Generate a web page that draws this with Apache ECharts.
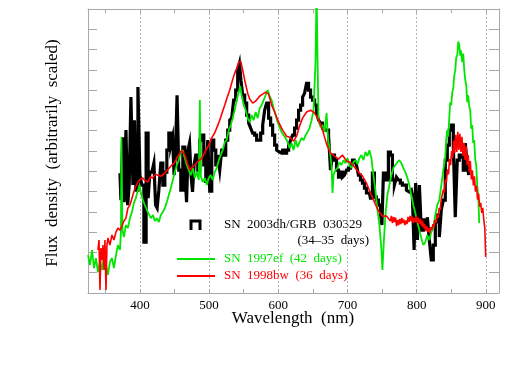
<!DOCTYPE html>
<html><head><meta charset="utf-8">
<script src="https://cdn.jsdelivr.net/npm/echarts@6/dist/echarts.min.js"></script>
<style>html,body{margin:0;padding:0;background:#fff}#c{width:510px;height:368px}</style>
</head><body><div id="c"></div>
<script>
// SN 2003dh/GRB 030329 (34-35 days), binned spectrum
const blackWave = [371.2,374.0,376.2,378.4,381.3,383.4,385.6,388.5,391.3,392.8,
395.7,398.6,401.4,404.3,407.2,410.8,413.0,415.9,418.8,421.6,
423.8,426.0,428.8,431.7,434.6,437.5,440.4,443.3,446.2,448.3,
450.5,452.6,454.8,457.7,460.6,463.5,466.4,468.5,470.7,472.8,
475.0,477.2,479.3,482.2,485.1,488.0,490.9,493.8,496.7,499.5,
502.4,505.3,508.2,511.1,514.0,516.8,519.7,522.6,525.5,528.4,
531.3,534.1,537.0,539.9,542.8,545.0,547.1,550.0,552.9,555.8,
558.7,561.5,564.4,567.3,570.2,573.1,576.0,578.9,581.7,584.6,
587.5,590.4,593.3,596.2,599.1,601.9,604.8,607.7,610.6,613.5,
616.4,619.2,622.1,625.0,627.9,630.8,633.7,636.6,639.4,642.3,
645.2,648.1,651.0,653.9,656.8,659.6,662.5,665.4,668.3,671.2,
674.1,676.9,679.8,682.7,685.6,688.5,691.4,694.3,697.1,700.0,
702.9,705.8,708.7,711.6,714.4,717.3,720.2,723.1,726.0,728.9,
731.7,734.6,737.5,740.4,743.3,746.2,749.1,750.5,753.4,757.7,
760.6,763.5,766.4,769.3,772.1,775.0,777.9,780.8,783.7,786.6,
789.4,792.3,795.2,797.4,799.6,802.5,805.3,808.2,811.1,814.0,
816.9,819.7,822.6,825.5,828.4,831.3,834.2,837.0,839.9,842.8,
845.7,848.6,851.5,854.4,857.2,860.1,863.0,865.9,868.8,871.7,
874.5,876.0];
const blackFlux = [5.91,4.58,7.68,4.48,8.03,4.33,5.32,9.66,5.32,8.52,
5.07,10.15,5.81,5.32,2.51,7.88,4.68,5.96,5.96,6.40,
4.33,4.19,5.07,6.40,5.32,5.96,7.04,7.88,7.29,7.68,
5.81,7.04,9.75,6.06,5.07,7.19,6.06,4.48,7.04,7.39,
5.81,4.98,6.31,6.80,6.06,7.54,7.78,6.31,5.42,7.54,
5.02,7.54,7.04,6.31,6.80,6.06,7.04,6.80,7.54,8.03,
8.52,8.62,9.51,10.0,10.99,11.33,10.49,9.75,9.36,8.77,
8.37,8.13,7.88,7.78,7.54,7.54,7.88,8.28,9.01,9.36,
8.62,8.28,7.78,7.29,7.04,6.95,6.90,7.04,6.90,7.04,
7.29,7.54,7.78,8.13,8.52,9.01,9.26,9.66,9.85,10.34,
10.0,9.66,9.51,9.26,8.87,8.52,8.37,8.13,8.03,8.03,
7.78,6.06,6.80,6.55,6.06,5.71,5.96,5.71,5.81,6.06,
6.16,6.31,6.55,6.55,6.31,5.81,5.57,5.42,5.17,4.93,
4.93,4.68,5.91,4.73,4.58,4.33,3.94,3.35,5.91,5.57,
6.95,6.80,5.57,5.32,5.71,5.57,5.42,5.32,5.32,5.07,
4.98,5.07,4.83,2.12,5.42,2.61,5.32,3.10,3.60,3.20,
3.74,2.61,1.63,2.36,3.50,3.84,2.76,4.09,4.58,6.55,
7.29,8.03,8.28,7.29,3.74,6.55,6.80,6.70,6.06,7.39,
6.31,5.81];

// SN 1997ef (42 days)
const greenWave = [325.0,327.9,330.8,333.7,336.5,339.4,342.3,345.2,348.1,351.0,
353.8,356.7,359.6,362.5,365.4,368.2,371.2,372.6,373.3,374.8,
376.9,379.8,382.7,385.6,388.5,391.3,394.2,397.1,399.3,401.4,
404.3,407.2,410.1,413.0,415.9,418.8,421.6,424.5,427.4,430.3,
433.2,436.1,438.9,441.8,444.7,447.6,450.5,453.4,456.3,459.1,
462.0,464.9,467.8,470.7,473.6,476.5,479.3,482.2,485.1,486.6,
488.0,490.9,493.8,496.7,499.5,502.4,505.3,508.2,511.1,514.0,
516.8,519.7,522.6,525.5,528.4,531.3,534.1,537.0,539.9,542.8,
545.0,547.1,550.0,552.9,555.8,558.7,561.5,564.4,567.3,570.2,
573.1,576.0,578.9,581.7,584.6,587.5,590.4,593.3,596.2,599.1,
601.9,604.8,607.7,610.6,613.5,616.4,619.2,622.1,625.0,627.9,
630.8,633.7,636.6,639.4,642.3,645.2,648.1,651.0,653.9,655.3,
656.8,658.2,661.1,664.0,666.9,669.8,672.0,674.1,676.9,678.4,
679.8,682.7,685.6,688.5,691.4,694.3,697.1,700.0,702.9,705.8,
708.7,711.6,714.4,717.3,720.2,723.1,726.0,728.9,731.7,734.6,
737.5,740.4,743.3,746.2,749.1,750.5,752.7,754.8,757.7,760.6,
763.5,766.4,769.3,772.1,775.0,777.9,780.8,783.7,786.6,789.4,
792.3,795.2,798.1,801.0,803.8,806.7,809.6,812.5,815.4,818.3,
821.1,824.0,826.9,829.8,832.7,835.6,838.5,841.3,842.8,844.2,
845.6,847.1,848.5,850.0,851.5,852.9,854.3,855.8,857.2,858.7,
860.1,861.6,863.0,863.7,865.9,867.3,868.8,870.2,871.7,873.1,
874.5,876.0,877.4,878.8,880.3,881.7,883.2,884.6,886.1,887.5,
889.0,890.4];
const greenFlux = [1.87,1.38,2.12,1.23,1.72,1.03,1.53,1.13,1.87,1.38,
0.89,1.53,1.72,1.23,1.87,2.36,2.12,3.00,7.68,3.10,
2.76,3.35,3.20,3.69,3.99,4.43,4.68,5.07,5.32,4.98,
4.58,4.33,4.09,3.89,3.69,3.84,3.55,3.69,3.50,3.84,
3.99,4.19,4.48,4.83,5.17,5.57,5.96,6.31,6.55,6.95,
7.04,6.65,6.31,6.06,5.81,6.16,5.67,5.96,5.57,9.51,
5.76,5.47,5.67,5.32,5.67,5.81,5.57,5.96,6.16,6.55,
6.80,7.04,7.44,7.54,8.03,8.28,8.62,9.01,9.51,9.90,
10.20,9.75,9.26,9.01,8.62,8.42,8.77,8.52,8.92,8.62,
9.11,9.26,9.51,9.75,10.0,9.70,9.51,9.11,8.77,8.42,
8.18,7.93,7.78,7.64,7.44,7.14,7.39,7.04,7.54,7.19,
7.44,7.64,7.54,7.78,7.93,8.13,8.52,9.01,11.48,15.0,
11.48,8.52,8.18,8.28,7.93,8.87,7.54,7.14,6.31,4.93,
5.81,6.06,6.16,6.45,6.31,6.55,6.40,6.65,6.31,6.16,
6.45,6.55,6.35,6.65,6.80,6.55,6.95,6.75,7.04,6.65,
5.81,5.07,4.09,3.35,2.12,1.13,2.61,3.84,4.83,5.32,
5.81,6.16,6.31,6.45,6.55,6.40,6.16,5.96,5.67,5.32,
4.83,4.33,3.94,3.50,3.10,2.71,2.36,2.51,2.86,2.61,
3.00,3.20,3.84,4.33,4.58,5.32,6.06,6.70,7.60,8.03,
7.70,8.62,9.40,9.26,9.90,10.10,10.70,10.99,11.60,11.72,
12.40,12.22,11.70,11.97,11.38,11.80,10.99,10.50,10.25,9.40,
9.75,9.20,9.01,8.10,8.28,7.40,7.54,6.60,6.31,5.30,
4.83,3.45];

// SN 1998bw (36 days)
const redWave = [339.4,340.9,342.3,343.7,345.2,346.6,348.1,349.5,351.0,352.4,
353.8,356.7,359.6,362.5,365.4,368.3,371.2,374.0,376.9,379.8,
382.7,385.6,389.9,393.0,397.1,400.7,404.3,407.9,411.5,415.1,
418.8,422.4,426.0,431.0,436.1,441.2,446.2,449.8,453.4,457.0,
460.6,464.9,468.5,472.1,475.7,479.3,484.4,489.4,494.0,498.0,
501.0,504.6,508.2,511.8,515.4,519.0,522.6,526.2,529.8,532.7,
535.6,537.7,539.9,542.8,545.7,548.6,551.5,555.8,558.7,563.0,
567.3,573.1,577.4,581.7,586.1,590.4,594.7,600.5,606.3,612.0,
616.4,622.1,626.5,630.8,635.1,640.9,646.7,651.0,655.3,659.6,
664.0,669.8,675.5,681.3,687.0,692.8,698.6,704.3,710.1,715.9,
721.7,727.4,733.2,739.0,744.7,750.5,756.3,762.0,763.5,765.0,
766.5,768.0,769.5,771.0,772.5,774.0,775.5,777.0,778.5,780.0,
781.5,783.0,784.5,786.0,787.5,789.0,790.5,792.0,793.5,795.0,
796.5,798.0,799.5,801.0,802.5,804.0,805.5,807.0,808.5,810.0,
811.5,813.0,814.5,816.0,817.5,819.0,820.5,822.0,823.5,825.0,
826.5,828.0,829.5,831.0,832.5,834.0,835.5,837.0,838.5,840.0,
841.5,843.0,844.5,846.0,847.5,849.0,850.5,852.0,853.5,855.0,
856.5,858.0,859.5,861.0,862.5,864.0,865.5,867.0,868.5,870.0,
871.5,873.0,874.5,876.0,877.5,879.0,880.5,882.0,883.5,885.0,
886.5,888.0,889.5,891.0,892.5,894.0,895.5,897.0,898.5,899.8];
const redFlux = [2.12,2.61,0.15,2.22,1.63,2.36,1.13,2.61,0.15,2.36,
2.71,2.36,2.86,2.61,3.00,3.20,3.10,3.30,3.55,3.69,
4.19,4.33,4.83,5.17,5.47,5.62,5.67,5.52,5.47,5.72,
5.67,5.86,5.81,5.76,5.91,6.11,6.31,6.40,6.65,6.85,
7.04,6.80,6.40,6.06,6.21,6.31,6.50,6.65,6.95,7.19,
7.39,7.70,7.90,8.20,8.52,8.90,9.26,9.65,10.0,10.35,
10.69,10.90,11.08,11.38,11.43,10.99,10.49,9.85,9.56,9.36,
9.46,9.70,9.80,9.90,9.80,9.26,8.92,8.42,8.03,7.73,
7.68,7.49,7.73,8.23,8.62,8.92,9.01,8.92,8.72,8.42,
8.03,7.34,6.90,6.75,6.60,6.80,6.50,6.45,6.21,5.96,
5.76,5.42,4.93,4.48,4.04,3.79,3.79,3.55,3.80,3.45,
3.75,3.50,3.72,3.30,3.60,3.35,3.65,3.40,3.70,3.45,
3.62,3.35,3.58,3.40,3.75,3.50,3.80,3.55,3.78,3.45,
3.70,3.50,3.80,3.45,3.72,3.40,3.65,3.30,3.55,3.20,
3.40,3.05,3.30,3.00,3.20,2.95,3.25,3.10,3.40,3.25,
3.60,3.45,3.85,3.70,4.20,4.10,4.60,4.55,5.10,4.95,
5.60,5.45,6.10,5.85,6.60,6.30,7.00,6.65,7.50,6.90,
7.80,6.95,7.95,7.05,7.85,6.95,7.70,6.75,7.40,6.55,
7.25,6.30,6.80,5.95,6.50,5.60,6.05,5.30,5.75,5.00,
5.30,4.60,4.90,4.25,4.45,3.95,4.20,3.60,3.20,1.77];

const xTickValues = [400,500,600,700,800,900];
const xMinorTickValues = [350,400,450,500,550,600,650,700,750,800,850,900];

function pairs(xs, ys){ return xs.map((x,i)=>[x, ys[i]]); }

const FRAME = '#a8a8a8';
const SERIF = '"Liberation Serif","DejaVu Serif",serif';
const GREEN = '#00e600';
const RED = '#ff0000';

const chart = echarts.init(document.getElementById('c'), null, {renderer:'canvas'});
chart.setOption({
  animation:false,
  backgroundColor:'#fff',
  grid:{left:88, top:9, width:411, height:284},
  xAxis:[
    {type:'value', min:325, max:919, position:'bottom',
     axisLine:{show:true, onZero:false, lineStyle:{color:FRAME}},
     axisTick:{show:true, inside:true, length:4, customValues:xMinorTickValues, lineStyle:{color:FRAME}},
     axisLabel:{show:true, customValues:xTickValues, color:'#000', fontFamily:SERIF, fontSize:13, margin:6},
     splitLine:{show:false}},
    {type:'value', min:325, max:919, position:'top',
     axisLine:{show:true, onZero:false, lineStyle:{color:FRAME}},
     axisTick:{show:true, inside:true, length:4, customValues:xMinorTickValues, lineStyle:{color:FRAME}},
     axisLabel:{show:false}, splitLine:{show:false}},
    {type:'value', min:325, max:919, splitNumber:6, position:'bottom',
     axisLine:{show:false}, axisTick:{show:false}, axisLabel:{show:false},
     splitLine:{show:true, lineStyle:{color:'#b4b4b4', type:[2,2], width:1}}}
  ],
  yAxis:[
    {type:'value', min:0, max:14, interval:1, position:'left',
     axisLine:{show:true, onZero:false, lineStyle:{color:FRAME}},
     axisTick:{show:true, inside:true, length:9, lineStyle:{color:FRAME}},
     axisLabel:{show:false}, splitLine:{show:false}},
    {type:'value', min:0, max:14, interval:1, position:'right',
     axisLine:{show:true, onZero:false, lineStyle:{color:FRAME}},
     axisTick:{show:true, inside:true, length:10, lineStyle:{color:FRAME}},
     axisLabel:{show:false}, splitLine:{show:false}}
  ],
  series:[
    {type:'line', name:'SN 2003dh/GRB 030329', data:pairs(blackWave, blackFlux), step:'middle',
     showSymbol:false, symbol:'none', z:3, clip:true,
     lineStyle:{color:'#000', width:3.2, join:'miter'}},
    {type:'line', name:'SN 1997ef', data:pairs(greenWave, greenFlux),
     showSymbol:false, symbol:'none', z:4, clip:true,
     lineStyle:{color:GREEN, width:1.8}},
    {type:'line', name:'SN 1998bw', data:pairs(redWave, redFlux),
     showSymbol:false, symbol:'none', z:5, clip:true,
     lineStyle:{color:RED, width:1.6}}
  ],
  graphic:[
    {type:'text', x:53, y:153, rotation:Math.PI/2,
     style:{text:'Flux  density  (arbitrarily  scaled)', font:'17px '+SERIF, fill:'#000', align:'center', verticalAlign:'middle'}},
    {type:'text', x:293, y:319,
     style:{text:'Wavelength  (nm)', font:'17px '+SERIF, fill:'#000', align:'center', verticalAlign:'middle'}},
    {type:'polyline', shape:{points:[[191,230],[191,221],[200,221],[200,230]]},
     style:{stroke:'#000', lineWidth:3, fill:null}},
    {type:'text', x:224, y:225,
     style:{text:'SN  2003dh/GRB  030329', font:'13px '+SERIF, fill:'#000', align:'left', verticalAlign:'middle'}},
    {type:'text', x:369, y:241,
     style:{text:'(34–35  days)', font:'13px '+SERIF, fill:'#000', align:'right', verticalAlign:'middle'}},
    {type:'line', shape:{x1:177, y1:259, x2:215, y2:259}, style:{stroke:GREEN, lineWidth:2}},
    {type:'text', x:224, y:259,
     style:{text:'SN  1997ef  (42  days)', font:'13px '+SERIF, fill:GREEN, align:'left', verticalAlign:'middle'}},
    {type:'line', shape:{x1:177, y1:276, x2:215, y2:276}, style:{stroke:RED, lineWidth:2}},
    {type:'text', x:224, y:276,
     style:{text:'SN  1998bw  (36  days)', font:'13px '+SERIF, fill:RED, align:'left', verticalAlign:'middle'}}
  ]
});
</script></body></html>
